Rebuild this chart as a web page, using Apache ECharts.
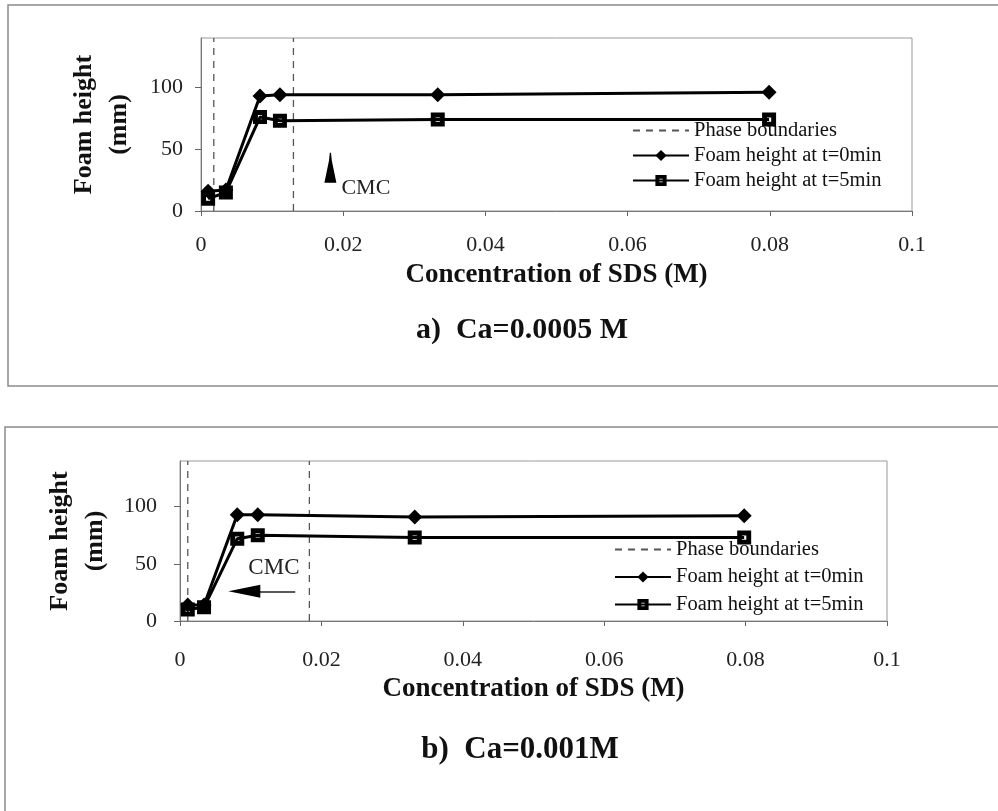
<!DOCTYPE html>
<html>
<head>
<meta charset="utf-8">
<script src="https://cdn.jsdelivr.net/npm/echarts@6/dist/echarts.min.js"></script>
<style>
html,body{margin:0;padding:0;background:#fff;}
#main{width:998px;height:811px;}
</style>
</head>
<body>
<div id="main"></div>
<script>
// ---- data ----
const seriesNames = ['Phase boundaries', 'Foam height at t=0min', 'Foam height at t=5min'];
const xTicks = [0, 0.02, 0.04, 0.06, 0.08, 0.1];
const yTicks = [0, 50, 100];
const yTop = 140;

// Panel a) Ca=0.0005 M
const concA = [0.001, 0.0035, 0.0083, 0.0111, 0.0333, 0.0799];
const t0A = [16, 17, 93, 94, 94, 96];
const t5A = [10, 15, 76, 73, 74, 74];
const phaseA = [0.0018, 0.013];
const cmcA = [0.0182, 35];

// Panel b) Ca=0.001M
const concB = [0.0011, 0.0034, 0.0081, 0.011, 0.0332, 0.0798];
const t0B = [14, 14, 93, 93, 91, 92];
const t5B = [10, 12, 72, 75, 73, 73];
const phaseB = [0.0011, 0.0183];
const cmcB = [0.0091, 26];
const cmcBLineEnd = 0.0163;

const captions = ['a)  Ca=0.0005 M', 'b)  Ca=0.001M'];

// ---- styles ----
const SERIF = "'Liberation Serif', 'DejaVu Serif', serif";
const squareSym = 'path://M0,0H10V10H0Z M3.5,3.5V6.5H6.5V3.5Z';
const diamondSym = 'diamond';

function pairs(xs, ys) { return xs.map((x, i) => [x, ys[i]]); }
function phaseData(ph) {
  const out = [];
  ph.forEach((p, i) => {
    if (i > 0) out.push(['-', '-']);
    out.push([p, 0], [p, yTop]);
  });
  return out;
}

function xAxisCfg(idx) {
  return {
    gridIndex: idx, type: 'value', min: 0, max: 0.1, interval: 0.02,
    name: 'Concentration of SDS (M)', nameLocation: 'middle', nameGap: idx === 0 ? 51 : 55,
    nameTextStyle: { fontFamily: SERIF, fontWeight: 'bold', fontSize: 27, color: '#111' },
    axisLine: { lineStyle: { color: '#777', width: 1 } },
    axisTick: { show: true, length: 5, lineStyle: { color: '#666' } },
    axisLabel: { fontFamily: SERIF, fontSize: 22, color: '#222', margin: idx === 0 ? 23 : 28 },
    splitLine: { show: false }
  };
}
function yAxisCfg(idx) {
  return {
    gridIndex: idx, type: 'value', min: 0, max: yTop, interval: 50,
    name: 'Foam height\n(mm)', nameLocation: 'middle', nameGap: idx === 0 ? 64 : 60,
    nameRotate: 90,
    nameTextStyle: { fontFamily: SERIF, fontWeight: 'bold', fontSize: 26, color: '#111', lineHeight: 35 },
    axisLine: { show: true, lineStyle: { color: '#777', width: 1 } },
    axisTick: { show: true, length: 6, customValues: yTicks, lineStyle: { color: '#666' } },
    axisLabel: { fontFamily: SERIF, fontSize: 22, color: '#222', margin: idx === 0 ? 18 : 23, customValues: yTicks },
    splitLine: { show: false }
  };
}

function panelSeries(idx, conc, t0, t5, phase, cmcExtra) {
  const phaseS = {
    name: seriesNames[0], type: 'line', xAxisIndex: idx, yAxisIndex: idx, data: phaseData(phase),
    symbol: 'circle', symbolSize: 0, showSymbol: false, connectNulls: false, silent: true,
    lineStyle: { type: [7, 6], color: '#555', width: 1.3 },
    itemStyle: { color: 'rgba(0,0,0,0)', borderWidth: 0 }
  };
  const s0 = {
    name: seriesNames[1], type: 'line', xAxisIndex: idx, yAxisIndex: idx, data: pairs(conc, t0),
    symbol: diamondSym, symbolSize: 15, lineStyle: { color: '#000', width: 3 },
    itemStyle: { color: '#000' }, z: 3
  };
  const s5 = {
    name: seriesNames[2], type: 'line', xAxisIndex: idx, yAxisIndex: idx, data: pairs(conc, t5),
    symbol: squareSym, symbolSize: 14, lineStyle: { color: '#000', width: 3 },
    itemStyle: { color: '#000' }, z: 4
  };
  Object.assign(s0, cmcExtra);
  return [phaseS, s0, s5];
}

const extraA = {
  markPoint: {
    silent: true,
    data: [{
      coord: cmcA, symbol: 'path://M4.5,0H5.5L6.2,8L10,30H0L3.8,8Z', symbolSize: [12, 30],
      itemStyle: { color: '#000' },
      label: { show: true, formatter: 'CMC', position: [17, 35], align: 'left', verticalAlign: 'middle',
               fontFamily: SERIF, fontSize: 22, color: '#222' }
    }]
  }
};
const extraB = {
  markPoint: {
    silent: true,
    data: [{
      coord: cmcB, symbol: 'path://M0,6L32,0V12Z', symbolSize: [32, 13],
      itemStyle: { color: '#000' },
      label: { show: true, formatter: 'CMC', position: [20, -17], align: 'left', verticalAlign: 'middle',
               fontFamily: SERIF, fontSize: 23, color: '#222' }
    }]
  },
  markLine: {
    silent: true, symbol: ['none', 'none'], label: { show: false }, precision: 5,
    lineStyle: { type: 'solid', color: '#222', width: 1.5 },
    data: [[{ coord: [cmcB[0], cmcB[1]] }, { coord: [cmcBLineEnd, cmcB[1]] }]]
  }
};

const legendBase = {
  orient: 'vertical', itemWidth: 56, itemHeight: 14, align: 'left', padding: 0,
  textStyle: { fontFamily: SERIF, fontSize: 20.5, color: '#111' },
  data: seriesNames, selectedMode: false
};

const option = {
  backgroundColor: '#fff',
  animation: false,
  title: [
    { text: captions[0], left: 517, top: 325, textAlign: 'center', textVerticalAlign: 'middle',
      textStyle: { fontFamily: SERIF, fontWeight: 'bold', fontSize: 30, color: '#111' } },
    { text: captions[1], left: 515, top: 745, textAlign: 'center', textVerticalAlign: 'middle',
      textStyle: { fontFamily: SERIF, fontWeight: 'bold', fontSize: 31, color: '#111' } }
  ],
  graphic: [
    { type: 'rect', shape: { x: 8, y: 5, width: 1020, height: 381 }, style: { fill: 'none', stroke: '#8a8a8a', lineWidth: 1.5 }, silent: true },
    { type: 'rect', shape: { x: 5, y: 427, width: 1020, height: 400 }, style: { fill: 'none', stroke: '#8a8a8a', lineWidth: 1.5 }, silent: true }
  ],
  legend: [
    Object.assign({}, legendBase, { left: 632, top: 120, itemGap: 4 }),
    Object.assign({}, legendBase, { left: 614, top: 539, itemGap: 6.5 })
  ],
  grid: [
    { left: 201, top: 38, width: 711, height: 173, show: true, borderColor: '#999', borderWidth: 1, backgroundColor: 'transparent' },
    { left: 180, top: 461, width: 707, height: 160, show: true, borderColor: '#999', borderWidth: 1, backgroundColor: 'transparent' }
  ],
  xAxis: [xAxisCfg(0), xAxisCfg(1)],
  yAxis: [yAxisCfg(0), yAxisCfg(1)],
  series: [].concat(
    panelSeries(0, concA, t0A, t5A, phaseA, extraA),
    panelSeries(1, concB, t0B, t5B, phaseB, extraB)
  )
};

const chart = echarts.init(document.getElementById('main'), null, { renderer: 'canvas' });
chart.setOption(option);
</script>
</body>
</html>
